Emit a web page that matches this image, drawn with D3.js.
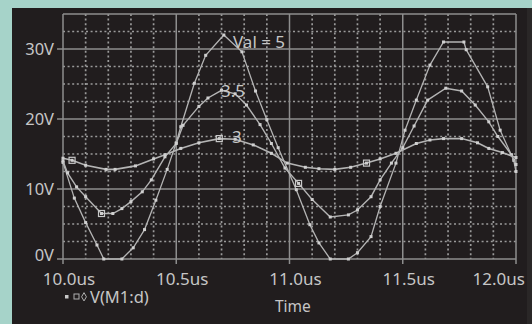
<!DOCTYPE html>
<html><head><meta charset="utf-8">
<script src="https://cdn.jsdelivr.net/npm/d3@7"></script>
<style>html,body{margin:0;padding:0;background:#a6d3c9;}svg{display:block;}</style>
</head><body>
<script>
const timeTicks = [10.0, 10.5, 11.0, 11.5, 12.0];
const timeTickLabels = ["10.0us","10.5us","11.0us","11.5us","12.0us"];
const voltTicks = [0, 10, 20, 30];
const voltTickLabels = ["0V","10V","20V","30V"];

const val3T = [10.00,10.04,10.10,10.19,10.23,10.32,10.40,10.45,10.52,10.60,10.69,10.76,10.84,10.92,10.99,11.07,11.13,11.20,11.27,11.34,11.40,11.47,11.56,11.62,11.68,11.76,11.83,11.88,11.94,12.00];
const val3V = [14.4,14.1,13.4,12.8,12.8,13.3,14.3,14.9,15.8,16.6,17.2,17.1,16.3,15.1,13.7,13.1,12.9,12.8,13.1,13.7,14.3,15.1,16.5,17.0,17.2,17.2,16.6,15.8,15.2,14.5];

const val35T = [10.00,10.02,10.06,10.10,10.17,10.22,10.26,10.30,10.35,10.39,10.45,10.50,10.53,10.60,10.64,10.70,10.76,10.81,10.87,10.92,10.98,11.04,11.10,11.18,11.26,11.30,11.36,11.40,11.45,11.50,11.55,11.61,11.69,11.76,11.82,11.88,11.92,11.98,12.00];
const val35V = [14.0,12.3,10.3,8.9,6.5,6.5,7.2,8.2,9.6,11.3,14.6,16.5,19.1,21.8,23.0,24.1,23.6,22.0,19.2,16.5,13.0,10.8,8.5,6.0,6.3,7.0,8.9,11.3,13.7,15.9,19.0,22.7,24.4,24.0,22.0,19.6,17.5,14.9,13.5];

const val5T = [10.00,10.05,10.10,10.15,10.18,10.26,10.31,10.36,10.41,10.46,10.50,10.52,10.58,10.63,10.71,10.79,10.85,10.90,10.95,11.03,11.09,11.13,11.18,11.26,11.30,11.36,11.40,11.47,11.51,11.56,11.62,11.68,11.77,11.78,11.875,11.93,11.99,12.00];
const val5V = [13.8,8.7,5.2,2.0,0,0,1.6,4.2,8.4,12.8,16.6,18.9,25.1,29.1,32.0,29.6,24.0,19.9,15.9,9.9,4.9,2.3,0,0,0.9,3.2,7.5,13.7,18.4,22.7,27.7,31.0,31.0,29.9,24.6,18.4,14.1,12.5];

const seriesNames = ["3", "3.5", "Val = 5"];
const legendText = "V(M1:d)";
const xTitle = "Time";

const W = 532, H = 324;
const svg = d3.select("body").append("svg").attr("width", W).attr("height", H);
svg.append("rect").attr("x",0).attr("y",0).attr("width",W).attr("height",H).attr("fill","#a6d3c9");
svg.append("rect").attr("x",12).attr("y",8).attr("width",W-12).attr("height",H-8).attr("fill","#211d1e");
svg.append("rect").attr("x",527).attr("y",8).attr("width",5).attr("height",H-8).attr("fill","#2a2727");

const L = 63, R = 516, T = 14, B = 259;
const x = d3.scaleLinear().domain([10, 12]).range([L, R]);
const y = d3.scaleLinear().domain([0, 35]).range([B, T]);

const font = "'Noto Sans', 'Open Sans', sans-serif";
const textCol = "#c6c6c6";
const gridCol = "#8e8e8e";

// minor dotted grid
const g = svg.append("g");
g.selectAll("line.mx").data(d3.range(1, 20).filter(i => i % 5 !== 0).map(i => 10 + i * 0.1))
  .join("line").attr("x1", d => x(d)).attr("x2", d => x(d)).attr("y1", T).attr("y2", B)
  .attr("stroke", "#9a9a9a").attr("stroke-width", 1.7).attr("stroke-dasharray", "2,2.6");
g.selectAll("line.my").data(d3.range(1, 14).filter(i => i % 4 !== 0).map(i => i * 2.5))
  .join("line").attr("x1", L).attr("x2", R).attr("y1", d => y(d)).attr("y2", d => y(d))
  .attr("stroke", "#9a9a9a").attr("stroke-width", 1.7).attr("stroke-dasharray", "2,2.6");

// major grid
g.selectAll("line.Mx").data(timeTicks)
  .join("line").attr("x1", d => x(d)).attr("x2", d => x(d)).attr("y1", T).attr("y2", B + 5)
  .attr("stroke", gridCol).attr("stroke-width", 1.5);
g.selectAll("line.My").data(voltTicks.concat([35]))
  .join("line").attr("x1", d => d === 35 ? L : L - 6).attr("x2", R).attr("y1", d => y(d)).attr("y2", d => y(d))
  .attr("stroke", gridCol).attr("stroke-width", 1.5);

// axis labels
svg.selectAll("text.yl").data(voltTicks).join("text")
  .attr("x", L - 9).attr("y", d => d === 0 ? y(d) + 2 : y(d) + 6).attr("text-anchor", "end")
  .attr("font-family", font).attr("font-size", 16.5).attr("fill", textCol)
  .text((d, i) => voltTickLabels[i]);
svg.selectAll("text.xl").data(timeTicks).join("text")
  .attr("x", (d, i) => i === timeTicks.length - 1 ? 525 : x(d) + 6)
  .attr("y", 284.5).attr("text-anchor", (d, i) => i === timeTicks.length - 1 ? "end" : "middle")
  .attr("font-family", font).attr("font-size", 17).attr("fill", textCol)
  .text((d, i) => timeTickLabels[i]);

svg.append("text").attr("x", 275).attr("y", 312).attr("font-family", font).attr("font-size", 15.5)
  .attr("fill", textCol).text(xTitle);

// curves
const series = [
  {t: val5T, v: val5V, w: 1.3},
  {t: val35T, v: val35V, w: 1.4},
  {t: val3T, v: val3V, w: 1.6}
];
const line = d3.line().x(d => x(d[0])).y(d => y(d[1]));
const lineCol = "#b4b4b4";
series.forEach(s => {
  const pts = s.t.map((t, i) => [t, s.v[i]]);
  svg.append("path").datum(pts).attr("d", line).attr("fill", "none")
    .attr("stroke", lineCol).attr("stroke-width", s.w);
  svg.append("g").selectAll("rect").data(pts).join("rect")
    .attr("x", d => x(d[0]) - 1.5).attr("y", d => y(d[1]) - 1.5)
    .attr("width", 3).attr("height", 3).attr("fill", "#cfcfcf");
});

// symbol markers
const sqMarks = [[val3T, val3V, [1, 10, 19]], [val35T, val35V, [4, 21]]];
sqMarks.forEach(([tt, vv, idx]) => {
  svg.append("g").selectAll("rect").data(idx).join("rect")
    .attr("x", i => x(tt[i]) - 3).attr("y", i => y(vv[i]) - 3)
    .attr("width", 6).attr("height", 6).attr("fill", "none")
    .attr("stroke", "#c8c8c8").attr("stroke-width", 1.2);
});

// curve labels
svg.append("text").attr("x", 233).attr("y", 48).attr("font-family", font).attr("font-size", 17)
  .attr("fill", textCol).text(seriesNames[2]);
svg.append("text").attr("x", 221).attr("y", 97).attr("font-family", font).attr("font-size", 17)
  .attr("fill", textCol).text(seriesNames[1]);
svg.append("text").attr("x", 232).attr("y", 143).attr("font-family", font).attr("font-size", 17)
  .attr("fill", textCol).text(seriesNames[0]);

// legend
const lg = svg.append("g");
lg.append("rect").attr("x", 65).attr("y", 295).attr("width", 3.5).attr("height", 3.5).attr("fill", "#c8c8c8");
lg.append("rect").attr("x", 74).attr("y", 294).attr("width", 5).attr("height", 5).attr("fill", "none").attr("stroke", "#b0b0b0");
lg.append("path").attr("d", d3.symbol(d3.symbolDiamond, 20)()).attr("transform", "translate(84,296.8)")
  .attr("fill", "none").attr("stroke", "#b0b0b0");
lg.append("text").attr("x", 90).attr("y", 303).attr("font-family", font).attr("font-size", 16.5)
  .attr("fill", textCol).text(legendText);
</script>
</body></html>
